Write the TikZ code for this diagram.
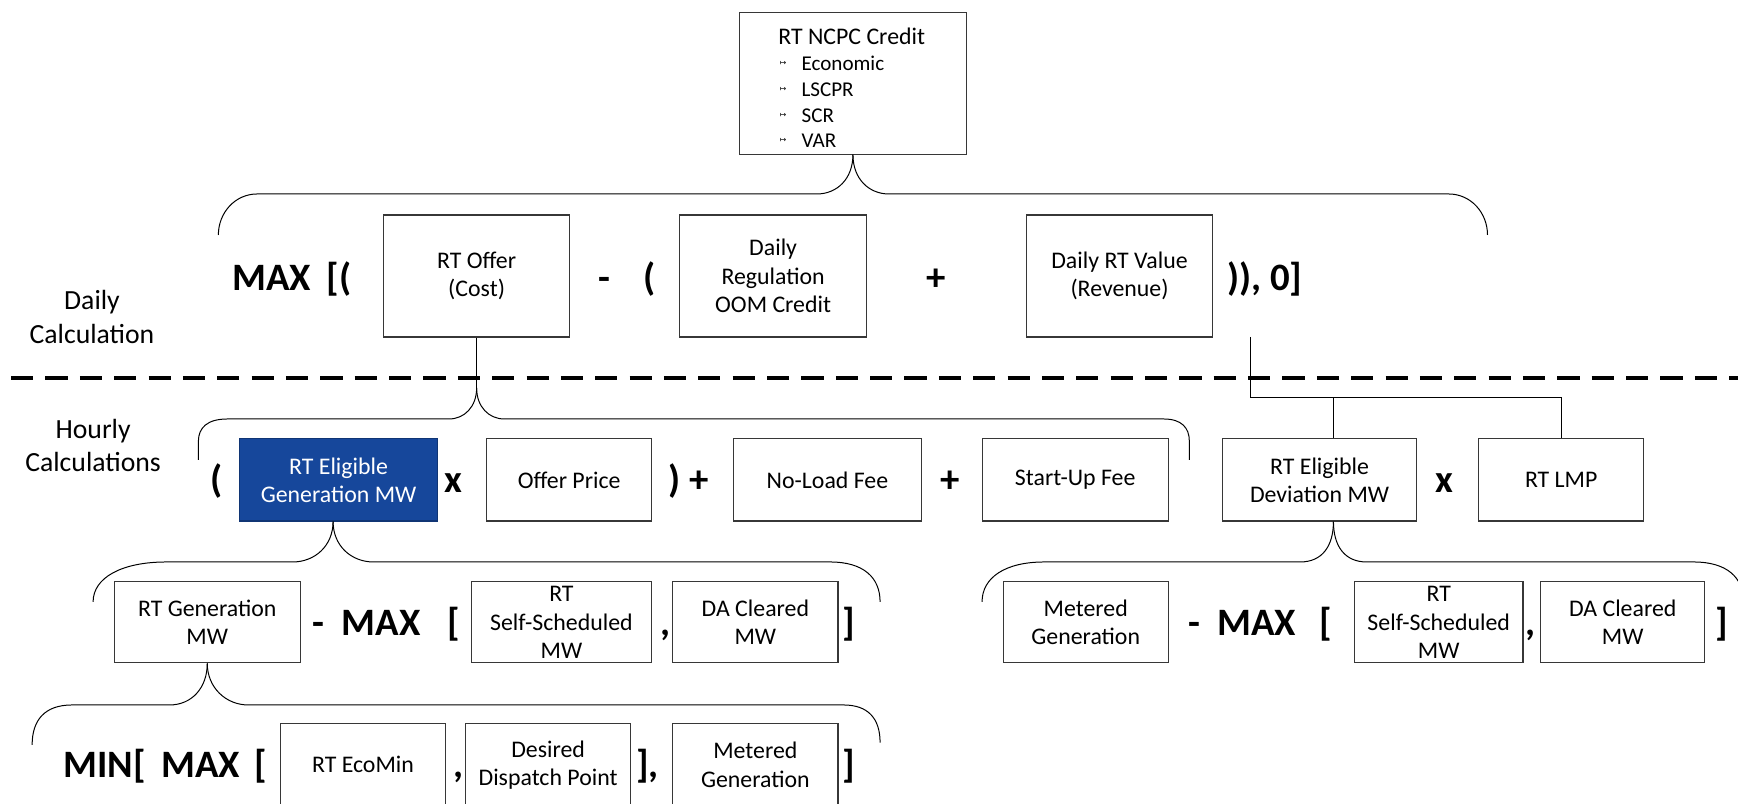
\documentclass[tikz,border=0pt]{standalone}
\usepackage{fontspec}
\setmainfont{Carlito}
\newfontfamily\symfont{DejaVu Sans}
\usetikzlibrary{calc}

\definecolor{boxblue}{RGB}{22,71,155}
\definecolor{edge}{RGB}{55,55,55}

\newcommand\bxfont{\fontsize{21.5}{25.5}\selectfont}
\newcommand\opfont{\fontsize{35}{40}\selectfont\bfseries}
\newcommand\lblfont{\fontsize{25}{30}\selectfont}
\newcommand\itemfont{\fontsize{19}{23}\selectfont}
\newcommand\bulfont{\symfont\fontsize{7}{8}\selectfont}

\tikzset{
  box/.style={draw=edge, line width=1pt, inner sep=0pt, align=center, font=\bxfont, fill=white},
  hot/.style={box, fill=boxblue, draw=boxblue!75!black, text=white},
  op/.style={inner sep=0pt, font=\opfont, text height=23pt, text depth=0pt},
  brace/.style={draw=black, line width=0.9pt},
  conn/.style={draw=black, line width=0.9pt},
  divider/.style={draw=black, line width=3.6pt, dash pattern=on 20pt off 11pt},
  lbl/.style={align=center, font=\lblfont, inner sep=0pt},
}

\begin{document}
\begin{tikzpicture}[x=1pt,y=-1pt]
\clip (0,0) rectangle (1568,725);
\fill[white] (0,0) rectangle (1568,725);

% ---------- section labels and divider ----------
\node[lbl] (dailylbl) at (83,286) {Daily\\Calculation};
\node[lbl] (hourlylbl) at (84,402) {Hourly\\Calculations};
\coordinate (divL) at (10,341);
\coordinate (divR) at (1568,341);
\draw[divider] (divL) -- (divR);

% ---------- top: RT NCPC credit ----------
\node[box, minimum width=205, minimum height=128] (ncpc) at (769.5,75) {};
\node[anchor=base west, font=\bxfont, inner sep=0pt] (ncpchead) at (702,40) {RT NCPC Credit};
\foreach \n/\t/\yy in {1/Economic/57, 2/LSCPR/81, 3/SCR/104, 4/VAR/127}{
  \node[font=\bulfont, inner sep=0pt] (bul\n) at (706.5,\yy) {↦};
  \node[anchor=base west, font=\itemfont, inner sep=0pt] (item\n) at (723,\yy+6.5) {\t};
}

% ---------- daily row ----------
\node[op] (dmax) at (245,251) {MAX};
\node[op] (dopen) at (306,251) {[(};
\node[box, minimum width=168, minimum height=110] (rtoffer) at (430,249) {RT Offer\\(Cost)};
\node[op] (dminus) at (545,251) {-};
\node[op] (dparen) at (586,251) {(};
\node[box, minimum width=169, minimum height=110] (dailyreg) at (697.5,249) {Daily\\Regulation\\OOM Credit};
\node[op] (dplus) at (845,251) {+};
\node[box, minimum width=168, minimum height=110] (dailyrt) at (1010,249) {Daily RT Value\\(Revenue)};
\node[op] (dclose) at (1141,251) {)), 0]};

% brace under the credit box
\coordinate (b1L) at (197,212);
\coordinate (b1R) at (1342,212);
\draw[brace] (ncpc.south) .. controls +(0,22) and +(18,0) .. (737,175) -- (232,175)
  .. controls +(-20,0) and +(0,-20) .. (b1L);
\draw[brace] (ncpc.south) .. controls +(0,22) and +(-18,0) .. (802,175) -- (1307,175)
  .. controls +(20,0) and +(0,-20) .. (b1R);

% ---------- hourly row ----------
\node[op] (hopen) at (195,433) {(};
\node[hot, minimum width=179, minimum height=74] (rteg) at (305.5,433) {RT Eligible\\Generation MW};
\node[op] (htimes) at (409,433) {x};
\node[box, minimum width=149, minimum height=74] (offer) at (513.5,433) {Offer Price};
\node[op] (hclose) at (609,433) {)};
\node[op] (hplus1) at (631,433) {+};
\node[box, minimum width=169, minimum height=74] (noload) at (746.5,433) {No-Load Fee};
\node[op] (hplus2) at (857,433) {+};
\node[box, minimum width=168, minimum height=74] (startup) at (970,433) {Start-Up Fee};
\node[box, minimum width=175, minimum height=74] (rtedev) at (1190.5,433) {RT Eligible\\Deviation MW};
\node[op] (htimes2) at (1303,433) {x};
\node[box, minimum width=149, minimum height=74] (rtlmp) at (1408.5,433) {RT LMP};

% brace from the offer (cost) box
\coordinate (c2) at (430,350);
\coordinate (b2L) at (179,415);
\coordinate (b2R) at (1073,415);
\draw[conn] (rtoffer.south) -- (c2);
\draw[brace] (c2) .. controls +(0,17) and +(14,0) .. (405,378) -- (205,378)
  .. controls +(-18,0) and +(0,-12) .. (179,398) -- (b2L);
\draw[brace] (c2) .. controls +(0,17) and +(-14,0) .. (455,378) -- (1050,378)
  .. controls +(16,0) and +(0,-12) .. (1073,398) -- (b2R);

% elbow from the revenue side
\coordinate (rvtap) at (1128,304);
\coordinate (dvtop) at ($(rtedev.north)+(12.5,0)$);
\draw[conn] (rvtap) -- (1128,359) -| (rtlmp.north);
\draw[conn] (dvtop |- 0,359) -- (dvtop);

% ---------- third row, left ----------
\node[box, minimum width=168, minimum height=73] (rtgen) at (187,561.5) {RT Generation\\MW};
\node[op] (lminus) at (287,562) {-};
\node[op] (lmax) at (344,562) {MAX};
\node[op] (lbrk) at (409,562) {[};
\node[box, minimum width=163, minimum height=73, inner ysep=-4pt] (selfL) at (506.5,561.5) {RT\\Self-Scheduled\\MW};
\node[op] (lcomma) at (600,562) {,};
\node[box, minimum width=149, minimum height=73] (daL) at (681.5,561.5) {DA Cleared\\MW};
\node[op] (lend) at (766,562) {]};

\coordinate (c3) at ($(rteg.south)+(-5,0)$);
\coordinate (b3L) at (84,543);
\coordinate (b3R) at (794,543);
\draw[brace] (c3) .. controls +(0,22) and +(20,0) .. (264,507) -- (150,507)
  .. controls +(-40,0) and +(0,-22) .. (b3L);
\draw[brace] (c3) .. controls +(0,22) and +(-20,0) .. (337,507) -- (749,507)
  .. controls +(30,0) and +(0,-22) .. (b3R);

% ---------- third row, right ----------
\node[box, minimum width=149, minimum height=73] (meterR) at (979.5,561.5) {Metered\\Generation};
\node[op] (rminus) at (1078,562) {-};
\node[op] (rmax) at (1134,562) {MAX};
\node[op] (rbrk) at (1196,562) {[};
\node[box, minimum width=152, minimum height=73, inner ysep=-4pt] (selfR) at (1298,561.5) {RT\\Self-Scheduled\\MW};
\node[op] (rcomma) at (1381,562) {,};
\node[box, minimum width=148, minimum height=73] (daR) at (1464,561.5) {DA Cleared\\MW};
\node[op] (rend) at (1553,562) {]};

\coordinate (c4) at ($(rtedev.south)+(12.5,0)$);
\coordinate (b4L) at (886,543);
\coordinate (b4R) at (1573,543);
\draw[brace] (c4) .. controls +(0,22) and +(20,0) .. (1173,507) -- (942,507)
  .. controls +(-35,0) and +(0,-22) .. (b4L);
\draw[brace] (c4) .. controls +(0,22) and +(-20,0) .. (1233,507) -- (1528,507)
  .. controls +(30,0) and +(0,-22) .. (b4R);

% ---------- fourth row ----------
\node[op] (mmin) at (88.5,690) {MIN};
\node[op] (mbrk1) at (126,690) {[};
\node[op] (mmax) at (181,690) {MAX};
\node[op] (mbrk2) at (235,690) {[};
\node[box, minimum width=149, minimum height=74] (ecomin) at (327.5,690) {RT EcoMin};
\node[op] (mcomma) at (414,690) {,};
\node[box, minimum width=149, minimum height=74] (desired) at (494.5,690) {Desired\\Dispatch Point};
\node[op] (mclose) at (584,690) {],};
\node[box, minimum width=149, minimum height=74] (meterL) at (681.5,690) {Metered\\Generation};
\node[op] (mend) at (766,690) {]};

\coordinate (b5L) at (29,672);
\coordinate (b5R) at (794,670);
\draw[brace] (rtgen.south) .. controls +(0,22) and +(20,0) .. (153,636) -- (65,636)
  .. controls +(-25,0) and +(0,-22) .. (b5L);
\draw[brace] (rtgen.south) .. controls +(0,22) and +(-20,0) .. (224,636) -- (761,636)
  .. controls +(22,0) and +(0,-22) .. (b5R);
\end{tikzpicture}
\end{document}
